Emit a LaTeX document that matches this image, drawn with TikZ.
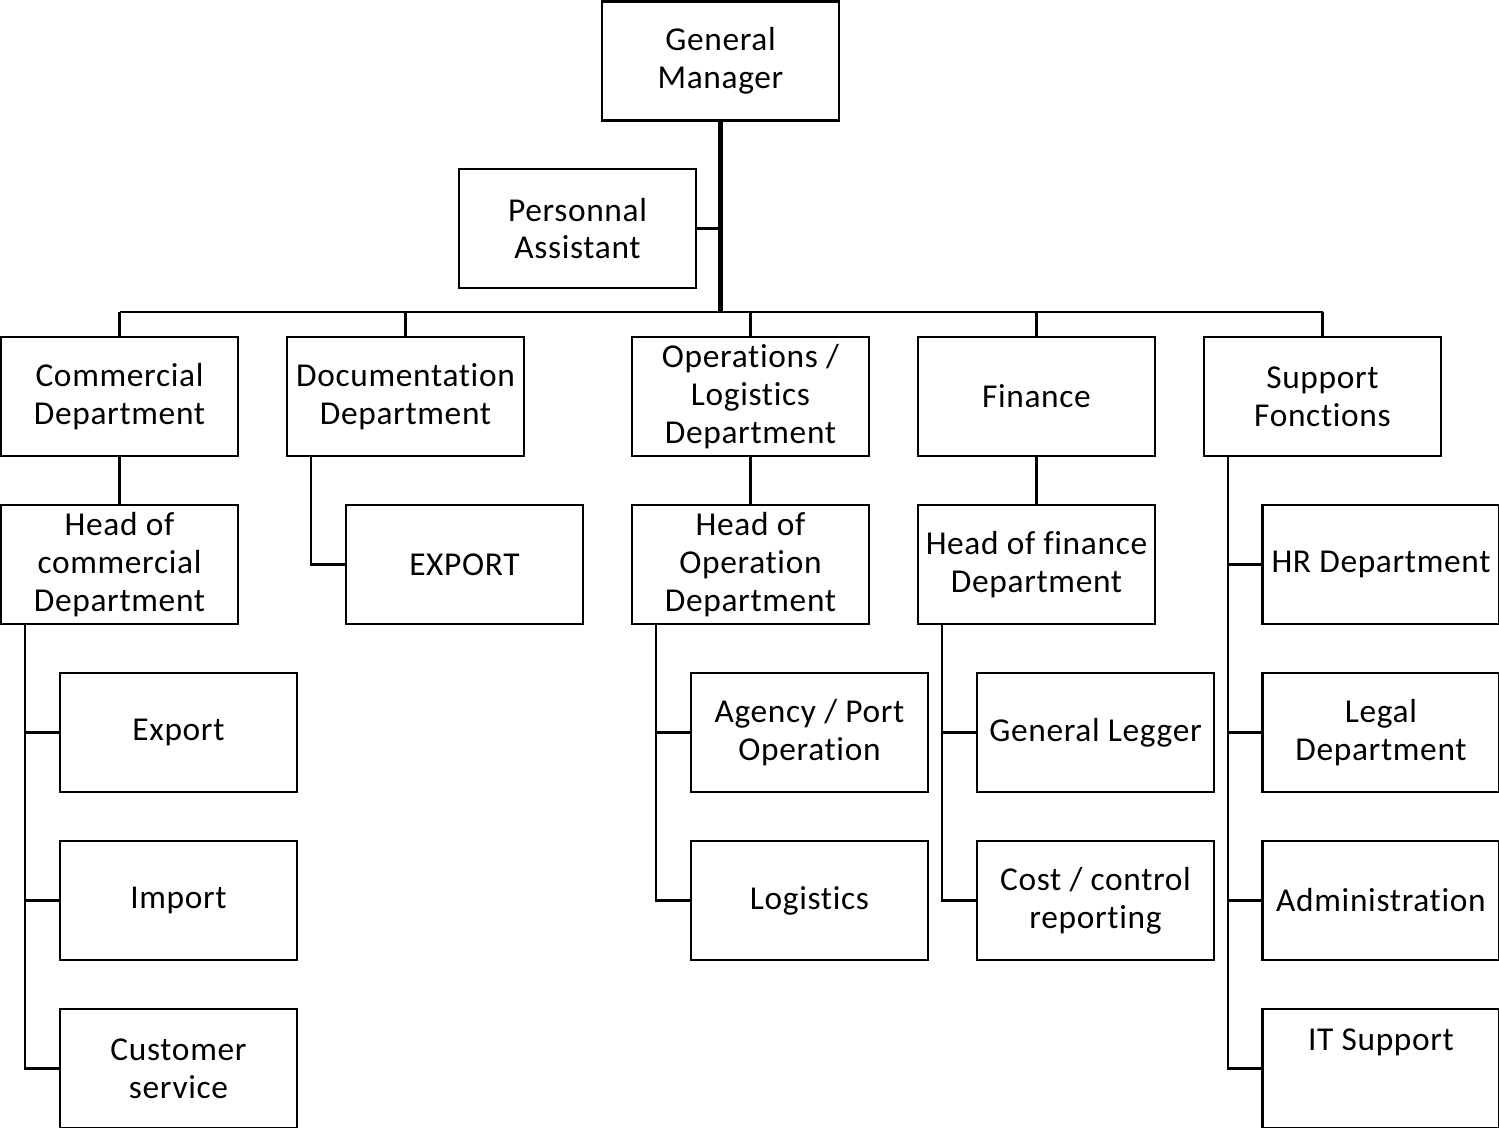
\documentclass[tikz,border=0pt]{standalone}
\usepackage{fontspec}
\setmainfont[Ligatures=NoCommon,LetterSpace=2]{Carlito}
\begin{document}
\begin{tikzpicture}[x=0.02cm,y=-0.02cm,
  box/.style={draw, line width=1.2pt, minimum width=4.74cm, minimum height=2.38cm,
    inner sep=0pt, align=center, font=\fontsize{19}{21.5}\selectfont},
  lbl/.style={inner sep=0pt, align=center, font=\fontsize{19}{21.5}\selectfont},
  conn/.style={line width=1.3pt},
  trunk/.style={line width=2.3pt}]
\useasboundingbox (0,0) rectangle (1499,1128);
% nodes
\node[box] (gm) at (720.5,61) {General\\Manager};
\node[box] (pa) at (577.5,228.5) {Personnal\\Assistant};
\node[box] (comm) at (119.5,396.5) {Commercial\\Department};
\node[box] (doc) at (405.5,396.5) {Documentation\\Department};
\node[box] (ops) at (750.5,396.5) {Operations /\\Logistics\\Department};
\node[box] (fin) at (1036.5,396.5) {Finance};
\node[box] (sup) at (1322.5,396.5) {Support\\Fonctions};
\node[box] (hcom) at (119.5,564.5) {Head of\\commercial\\Department};
\node[box] (export) at (464.5,564.5) {EXPORT};
\node[box] (hops) at (750.5,564.5) {Head of\\Operation\\Department};
\node[box] (hfin) at (1036.5,564.5) {Head of finance\\Department};
\node[box] (hr) at (1381,564.5) {HR Department};
\node[box] (exp) at (178.5,732.5) {Export};
\node[box] (agency) at (809.5,732.5) {Agency / Port\\Operation};
\node[box] (gl) at (1095.5,732.5) {General Legger};
\node[box] (legal) at (1381,732.5) {Legal\\Department};
\node[box] (imp) at (178.5,900.5) {Import};
\node[box] (logi) at (809.5,900.5) {Logistics};
\node[box] (cost) at (1095.5,900.5) {Cost / control\\reporting};
\node[box] (adm) at (1381,900.5) {Administration};
\node[box] (cs) at (178.5,1068.5) {Customer\\service};
\node[box] (it) at (1381,1068.5) {};
\node[lbl] (itl) at (1381,1042) {IT Support};
% coordinates
\coordinate (busy) at (0,312);
\coordinate (cx) at (25,0);
\coordinate (dx) at (311,0);
\coordinate (ox) at (656,0);
\coordinate (fx) at (942,0);
\coordinate (sx) at (1228,0);
% top connectors
\draw[trunk] (gm.south) -- (gm.south |- busy);
\draw[conn] (pa.east) -- (pa.east -| gm.south);
\draw[line width=1.4pt] (comm.north |- busy) -- (sup.north |- busy);
\foreach \n in {comm,doc,ops,fin,sup}
  \draw[conn] (\n.north) -- (\n.north |- busy);
% row 1 to row 2
\draw[conn] (comm.south) -- (hcom.north);
\draw[conn] (ops.south) -- (hops.north);
\draw[conn] (fin.south) -- (hfin.north);
\draw[conn] (doc.south -| dx) |- (export.west);
% branches
\foreach \c in {exp,imp,cs}
  \draw[conn] (hcom.south -| cx) |- (\c.west);
\foreach \c in {agency,logi}
  \draw[conn] (hops.south -| ox) |- (\c.west);
\foreach \c in {gl,cost}
  \draw[conn] (hfin.south -| fx) |- (\c.west);
\foreach \c in {hr,legal,adm,it}
  \draw[conn] (sup.south -| sx) |- (\c.west);
\end{tikzpicture}
\end{document}
